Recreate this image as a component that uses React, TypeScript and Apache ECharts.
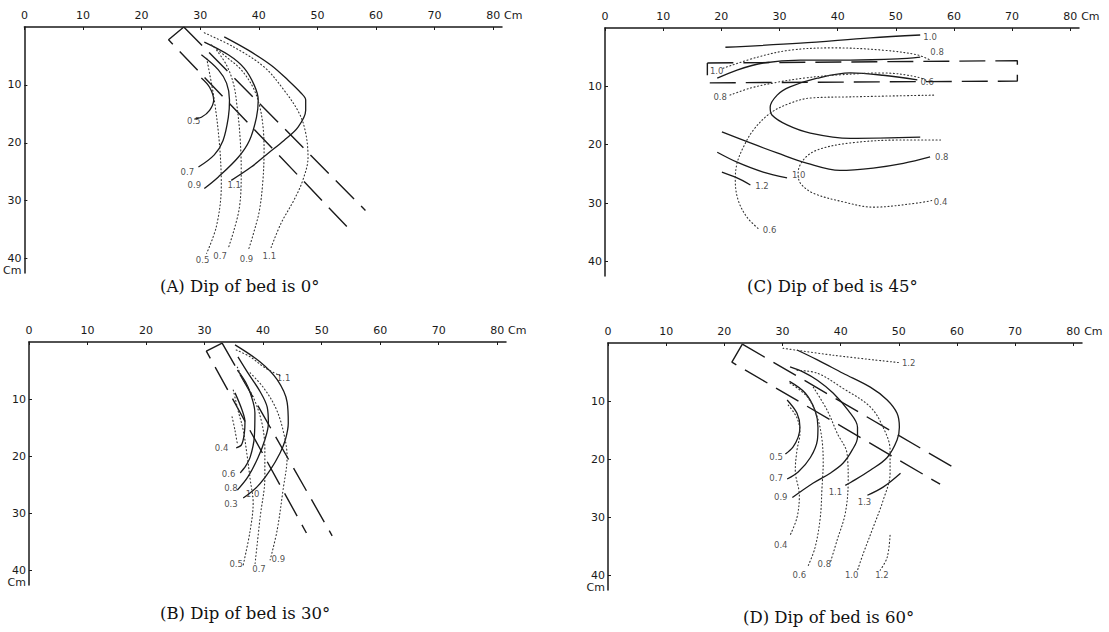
import React, { useEffect, useRef } from 'react';
import * as echarts from 'echarts';

// ---------- axis ticks ----------
const xTicks = [0, 10, 20, 30, 40, 50, 60, 70, 80];
const yTicks = [10, 20, 30, 40];
const captions = ['(A) Dip of bed is 0°', '(B) Dip of bed is 30°', '(C) Dip of bed is 45°', '(D) Dip of bed is 60°'];

// ---------- Panel A (dip 0°) ----------
const aBedUpper = [[27.2, 0], [58.2, 31.7]];
const aBedLower = [[27.2, 0], [24.6, 2.2], [56.0, 35.5]];
const aSolid05 = [[30.2, 8.8], [31.6, 10.4], [32.3, 12.6], [31.6, 14.4], [30.2, 15.6], [29.0, 15.9]];
const aSolid07 = [[30.2, 4.8], [33.1, 7.4], [34.5, 9.7], [35.0, 12.6], [34.8, 15.6], [33.9, 19.6], [32.4, 22.1], [29.7, 24.2]];
const aSolid09 = [[30.7, 2.6], [34.8, 4.8], [37.5, 7.1], [39.2, 10.0], [39.9, 12.6], [39.6, 15.6], [38.4, 19.6], [36.5, 22.5], [33.1, 25.9], [30.7, 27.9]];
const aSolid11 = [[34.1, 1.7], [38.2, 4.0], [42.1, 6.6], [45.0, 9.2], [47.2, 11.4], [48.0, 12.6], [48.0, 14.4], [46.7, 17.3], [44.3, 19.6], [41.6, 21.8], [38.7, 24.2], [35.3, 26.5]];
const aDot05 = [[31.1, 5.4], [32.4, 12.6], [33.3, 20.4], [33.6, 27.3], [32.8, 34.3], [31.1, 39.1]];
const aDot07 = [[32.8, 4.0], [34.5, 6.6], [35.7, 9.9], [36.3, 13.8], [36.8, 19.0], [37.0, 24.7], [36.7, 31.1], [34.8, 38.2]];
const aDot09 = [[31.9, 3.1], [34.5, 5.2], [37.0, 7.4], [39.0, 10.4], [40.1, 13.5], [40.7, 17.0], [40.9, 21.3], [40.7, 26.5], [40.1, 31.7], [39.0, 36.0], [38.2, 38.6]];
const aDot11 = [[30.7, 1.0], [35.8, 3.5], [40.9, 6.9], [44.3, 10.9], [46.9, 14.9], [48.0, 18.3], [48.4, 22.5], [47.5, 26.5], [46.0, 29.9], [43.8, 33.9], [42.1, 38.1]];
const aLabels: [string, number, number][] = [
  ['0.5', 28.9, 16.2], ['0.7', 27.8, 25.1], ['0.9', 29.0, 27.3], ['1.1', 35.8, 27.3],
  ['0.5', 30.4, 40.3], ['0.7', 33.4, 39.6], ['0.9', 37.9, 40.0], ['1.1', 41.8, 39.6],
];

// ---------- Panel B (dip 30°) ----------
const bBedUpper = [[33.0, 0.2], [51.8, 33.9]];
const bBedLower = [[33.0, 0.2], [30.3, 1.6], [47.4, 33.4]];
const bSolid04 = [[35.2, 8.9], [36.4, 11.9], [36.9, 14.0], [36.8, 15.9], [36.3, 18.0], [35.4, 18.5]];
const bSolid06 = [[35.6, 4.9], [37.0, 7.0], [37.8, 8.9], [38.6, 12.4], [38.5, 16.6], [37.8, 20.1], [36.9, 21.9], [36.1, 22.9]];
const bSolid08 = [[35.7, 2.6], [37.4, 5.4], [39.5, 8.7], [40.7, 11.4], [40.9, 14.2], [40.3, 17.1], [39.1, 20.3], [37.4, 23.6], [35.6, 25.9]];
const bSolid10 = [[35.2, 0.5], [39.5, 3.5], [42.4, 6.6], [44.1, 10.5], [44.3, 14.2], [43.8, 17.1], [42.9, 19.4], [41.2, 22.4], [39.0, 25.3], [36.6, 27.3]];
const bDot11 = [[35.4, 1.4], [37.8, 2.6], [40.3, 4.5], [42.9, 5.9]];
const bDot04 = [[34.7, 13.1], [35.2, 15.5], [35.6, 17.8]];
const bDot05 = [[34.9, 8.4], [35.7, 11.9], [36.6, 15.4], [37.3, 20.1], [37.8, 24.1], [38.3, 28.1], [37.8, 32.9], [36.6, 39.0]];
const bDot07 = [[35.6, 4.4], [36.6, 6.6], [38.3, 9.6], [39.8, 14.2], [40.3, 18.9], [40.3, 23.6], [39.5, 30.6], [38.6, 39.0]];
const bDot09 = [[37.8, 5.4], [40.0, 7.9], [42.1, 11.4], [43.4, 15.4], [44.1, 20.1], [43.4, 25.9], [42.4, 32.9], [41.2, 38.1]];
const bLabels: [string, number, number][] = [
  ['1.1', 43.5, 6.3], ['0.4', 32.9, 18.6], ['0.6', 34.1, 23.1], ['0.8', 34.5, 25.6], ['0.3', 34.5, 28.4],
  ['1.0', 38.2, 26.6], ['0.5', 35.4, 38.8], ['0.7', 39.3, 39.7], ['0.9', 42.6, 38.0],
];

// ---------- Panel C (dip 45°) ----------
const cBed = [[17.6, 6.0], [70.9, 5.6], [70.9, 9.1], [17.6, 9.4], [17.6, 6.0]];
const cSolid10top = [[20.7, 3.3], [33.6, 2.6], [45.6, 1.7], [54.2, 1.2]];
const cDot08top = [[20.3, 6.9], [26.2, 5.0], [31.8, 3.8], [39.2, 3.4], [47.8, 3.8], [53.7, 4.6], [55.9, 5.5]];
const cSolid08top = [[19.3, 8.6], [22.7, 7.2], [27.2, 6.0], [33.6, 5.5], [42.2, 5.5], [50.3, 5.3], [54.2, 5.0]];
const cDot08mid = [[21.5, 11.5], [25.0, 10.3], [29.6, 9.3], [34.1, 8.6], [39.2, 8.1], [47.8, 7.7], [53.7, 8.4], [55.9, 9.3]];
const cSolid06 = [[53.7, 8.9], [47.8, 8.1], [42.2, 7.7], [36.5, 8.6], [31.8, 10.1], [29.6, 11.5], [28.4, 13.6], [28.7, 14.9], [31.3, 16.6], [35.3, 18.0], [42.2, 18.9], [54.2, 18.7]];
const cDot06 = [[56.5, 11.5], [42.2, 11.8], [35.3, 12.0], [31.8, 12.9], [28.4, 14.6], [25.5, 17.5], [23.8, 20.4], [22.7, 23.2], [22.4, 26.1], [22.9, 29.5], [24.4, 32.4], [26.6, 34.6]];
const cSolid08low = [[20.1, 17.8], [25.0, 19.7], [29.6, 21.4], [34.8, 23.2], [40.4, 24.4], [46.1, 24.0], [51.3, 23.2], [55.9, 22.1]];
const cDot04 = [[57.7, 19.2], [50.8, 19.2], [42.2, 19.7], [36.5, 20.9], [34.1, 22.6], [33.2, 24.9], [33.6, 26.6], [35.8, 28.3], [41.0, 29.8], [46.1, 30.7], [53.7, 30.0], [56.5, 29.5]];
const cSolid10low = [[19.3, 21.3], [22.7, 23.0], [27.2, 24.7], [31.3, 25.7]];
const cSolid12 = [[20.1, 24.7], [22.7, 25.7], [25.0, 26.9]];
const cLabels: [string, number, number][] = [
  ['1.0', 55.9, 1.6], ['0.8', 57.1, 4.1], ['1.0', 19.2, 7.3], ['0.6', 55.4, 9.2], ['0.8', 19.8, 11.8],
  ['0.8', 57.9, 22.1], ['1.0', 33.3, 25.2], ['1.2', 27.0, 27.0], ['0.4', 57.7, 29.8], ['0.6', 28.3, 34.6],
];

// ---------- Panel D (dip 60°) ----------
const dBedUpper = [[23.1, 0.2], [59.4, 21.4]];
const dBedLower = [[23.1, 0.2], [21.3, 3.3], [57.1, 24.3]];
const dSolid05 = [[30.8, 9.8], [32.5, 12.1], [33.0, 14.5], [32.7, 16.2], [31.8, 17.9], [30.5, 19.1]];
const dSolid07 = [[31.2, 6.6], [33.9, 8.6], [35.6, 11.6], [36.1, 14.5], [36.0, 16.7], [34.8, 19.7], [32.7, 22.2], [30.8, 23.4]];
const dSolid09 = [[31.3, 4.1], [33.6, 5.0], [36.0, 6.4], [38.7, 8.6], [41.3, 11.6], [42.9, 14.5], [42.9, 16.2], [42.0, 18.4], [40.4, 20.7], [38.2, 22.4], [35.3, 24.1], [31.7, 26.6]];
const dSolid11 = [[32.5, 1.2], [36.0, 2.9], [40.4, 5.2], [45.1, 7.6], [48.0, 9.8], [49.7, 12.1], [50.1, 14.5], [49.7, 16.7], [48.0, 19.7], [45.1, 21.9], [41.7, 24.0], [40.8, 24.5]];
const dSolid13 = [[44.6, 26.2], [47.3, 24.8], [50.3, 22.4]];
const dDot12top = [[30.1, 0.9], [38.7, 2.1], [50.3, 3.4]];
const dDot04 = [[31.0, 10.7], [32.5, 12.9], [33.0, 15.5], [32.5, 18.4], [32.2, 21.9], [32.9, 26.2], [32.5, 30.0], [31.3, 33.1]];
const dDot06 = [[31.3, 6.9], [34.3, 9.3], [36.0, 12.8], [36.8, 16.7], [37.0, 20.7], [36.8, 24.8], [36.5, 30.0], [35.6, 35.2], [34.3, 38.6]];
const dDot08 = [[35.3, 7.6], [37.7, 11.6], [39.4, 15.5], [41.1, 19.0], [41.3, 23.6], [40.8, 29.3], [39.4, 33.9], [38.2, 37.9]];
const dDot10 = [[32.5, 4.7], [36.0, 5.2], [40.4, 7.8], [45.1, 11.0], [47.3, 14.5], [48.5, 18.4], [48.5, 22.4], [47.3, 27.1], [45.6, 31.7], [43.9, 36.2], [42.9, 39.1]];
const dDot12 = [[48.5, 33.1], [48.0, 36.9], [46.8, 39.1]];
const dLabels: [string, number, number][] = [
  ['1.2', 51.7, 3.5], ['0.5', 28.9, 19.7], ['0.7', 28.9, 23.2], ['0.9', 29.7, 26.5], ['1.1', 39.1, 25.7],
  ['1.3', 44.1, 27.4], ['0.4', 29.7, 34.8], ['0.6', 32.9, 40.0], ['0.8', 37.2, 38.0], ['1.0', 41.9, 40.0], ['1.2', 47.1, 40.0],
];

type Kind = 'solid' | 'dotted' | 'bed';

const panels = [
  {
    grid: { left: 22, top: 27, width: 480, height: 246 }, cm: 42, cap: { left: 160, top: 278 },
    bed: [aBedUpper, aBedLower],
    solid: [aSolid05, aSolid07, aSolid09, aSolid11],
    dotted: [aDot05, aDot07, aDot09, aDot11],
    labels: aLabels,
  },
  {
    grid: { left: 29, top: 342, width: 477, height: 243 }, cm: 42, cap: { left: 160, top: 605 },
    bed: [bBedUpper, bBedLower],
    solid: [bSolid04, bSolid06, bSolid08, bSolid10],
    dotted: [bDot11, bDot04, bDot05, bDot07, bDot09],
    labels: bLabels,
  },
  {
    grid: { left: 605, top: 28, width: 474, height: 248 }, cm: 41.3, cap: { left: 747, top: 278 },
    bed: [cBed],
    solid: [cSolid10top, cSolid08top, cSolid06, cSolid08low, cSolid10low, cSolid12],
    dotted: [cDot08top, cDot08mid, cDot06, cDot04],
    labels: cLabels,
  },
  {
    grid: { left: 608, top: 343, width: 474, height: 247 }, cm: 42, cap: { left: 743, top: 609 },
    bed: [dBedUpper, dBedLower],
    solid: [dSolid05, dSolid07, dSolid09, dSolid11, dSolid13],
    dotted: [dDot12top, dDot04, dDot06, dDot08, dDot10, dDot12],
    labels: dLabels,
  },
];

const INK = '#1a1a1a';

function curveSeries(gi: number, pts: number[][], kind: Kind) {
  const lineStyle =
    kind === 'solid'
      ? { color: INK, width: 1.3, type: 'solid' }
      : kind === 'dotted'
      ? { color: '#333', width: 1.1, type: [1, 2.6], cap: 'round' }
      : { color: INK, width: 1.4, type: [26, 10] };
  return {
    type: 'line',
    xAxisIndex: gi,
    yAxisIndex: gi,
    data: pts,
    symbol: 'none',
    showSymbol: false,
    smooth: kind === 'bed' ? false : 0.35,
    lineStyle,
    silent: true,
    animation: false,
    z: kind === 'bed' ? 2 : 3,
  };
}

export default function App() {
  const ref = useRef<HTMLDivElement>(null);
  useEffect(() => {
    if (!ref.current) return;
    const chart = echarts.init(ref.current, undefined, { renderer: 'svg' });
    const grids = panels.map((p) => ({ ...p.grid, containLabel: false }));
    const xAxes = panels.map((p, i) => ({
      type: 'value',
      gridIndex: i,
      position: 'top',
      min: 0,
      max: 81.5,
      interval: 10,
      name: 'Cm',
      nameLocation: 'end',
      nameGap: 0,
      nameTextStyle: { fontFamily: 'DejaVu Sans', fontSize: 11, color: INK, align: 'left', verticalAlign: 'bottom', padding: [0, 0, 6, 0] },
      axisLine: { show: true, onZero: false, lineStyle: { color: INK, width: 1.5 } },
      axisTick: { show: true, inside: true, length: 3, customValues: xTicks, lineStyle: { color: INK } },
      axisLabel: { show: true, margin: 6, customValues: xTicks, fontFamily: 'DejaVu Sans', fontSize: 11, color: INK, formatter: (v: number) => String(v) },
      splitLine: { show: false },
    }));
    const yAxes = panels.map((p, i) => ({
      type: 'value',
      gridIndex: i,
      position: 'left',
      inverse: true,
      min: 0,
      max: 42.5,
      interval: 10,
      axisLine: { show: true, onZero: false, lineStyle: { color: INK, width: 1.5 } },
      axisTick: { show: true, inside: true, length: 3, customValues: yTicks, lineStyle: { color: INK } },
      axisLabel: {
        show: true, margin: 3, customValues: [...yTicks, p.cm], fontFamily: 'DejaVu Sans', fontSize: 11, color: INK,
        formatter: (v: number) => (v === p.cm ? 'Cm' : String(v)),
      },
      splitLine: { show: false },
    }));
    const series: any[] = [];
    panels.forEach((p, i) => {
      p.bed.forEach((c) => series.push(curveSeries(i, c, 'bed')));
      p.solid.forEach((c) => series.push(curveSeries(i, c, 'solid')));
      p.dotted.forEach((c) => series.push(curveSeries(i, c, 'dotted')));
      series.push({
        type: 'scatter',
        xAxisIndex: i,
        yAxisIndex: i,
        data: p.labels.map(([t, x, y]) => ({ name: t, value: [x, y] })),
        symbolSize: 1,
        itemStyle: { color: 'rgba(0,0,0,0)' },
        label: { show: true, position: 'inside', formatter: '{b}', fontFamily: 'DejaVu Sans', fontSize: 8.5, color: '#222' },
        silent: true,
        z: 5,
      });
    });
    const titles = panels.map((p, i) => ({
      text: captions[i],
      left: p.cap.left,
      top: p.cap.top,
      padding: 0,
      textStyle: { fontFamily: 'DejaVu Serif', fontSize: 16.5, fontWeight: 'normal', color: '#111' },
    }));
    chart.setOption({
      animation: false,
      backgroundColor: '#ffffff',
      title: titles,
      grid: grids,
      xAxis: xAxes,
      yAxis: yAxes,
      series,
    });
    return () => chart.dispose();
  }, []);
  return <div ref={ref} style={{ position: 'fixed', left: 0, top: 0, width: 1109, height: 632, background: '#fff' }} />;
}
